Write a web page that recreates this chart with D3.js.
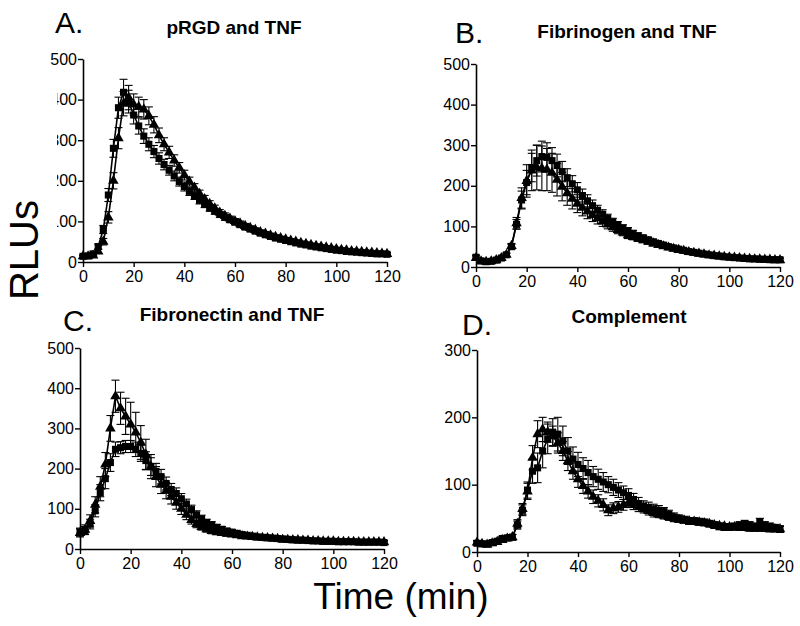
<!DOCTYPE html>
<html><head><meta charset="utf-8">
<script src="https://cdn.jsdelivr.net/npm/d3@7"></script>
<style>
body{margin:0;background:#fff}
text{font-family:Arial,"Liberation Sans",sans-serif}
</style>
</head><body>
<svg id="chart" width="800" height="626"></svg>
<script>
// ---- DATA ----
const times = [0,2,4,6,8,10,12,14,16,18,20,22,24,26,28,30,32,34,36,38,40,42,44,46,48,50,52,54,56,58,60,62,64,66,68,70,72,74,76,78,80,82,84,86,88,90,92,94,96,98,100,102,104,106,108,110,112,114,116,118,120];
const xTickValues = [0,20,40,60,80,100,120];
const yTickValues500 = [0,100,200,300,400,500];
const yTickValues300 = [0,100,200,300];
const panelLetters = ["A.","B.","C.","D."];
const panelTitles = ["pRGD and TNF","Fibrinogen and TNF","Fibronectin and TNF","Complement"];
const panelYMax = [500,500,500,300];
const xAxisTitle = "Time (min)";
const yAxisTitle = "RLUs";

// Panel A: pRGD and TNF
const aSquares = [14,15,20,38,80,165,280,380,418,395, 362,335,310,290,272,255,240,226,212,198, 186,174,163,152,142,133,125,117,110,104, 98,92,86,81,76,71,67,63,59,56, 53,50,47,44,42,39,37,35,33,31, 29,28,26,25,24,23,22,21,20,20, 19];
const aSquaresErr = [3,3,4,6,10,16,22,26,32,28, 22,20,18,16,15,14,13,12,12,11, 11,10,9,9,8,8,7,7,7,6, 6,6,6,5,5,5,5,5,5,4, 4,4,4,4,4,4,4,4,3,3, 3,3,3,3,3,3,3,3,3,3, 3];
const aTriangles = [14,14,16,26,50,110,200,305,390,405, 388,382,376,360,338,312,290,270,250,232, 214,198,183,168,155,143,132,122,114,107, 101,95,89,84,79,74,70,66,62,59, 56,53,50,47,45,42,40,38,36,34, 32,30,29,27,26,25,24,23,22,21, 20];
const aTrianglesErr = [3,3,3,5,8,14,20,26,30,30, 26,24,24,22,20,18,16,15,14,13, 12,11,10,9,9,8,8,7,7,6, 6,6,6,5,5,5,5,5,5,4, 4,4,4,4,4,4,4,4,3,3, 3,3,3,3,3,3,3,3,3,3, 3];

// Panel B: Fibrinogen and TNF
const bSquares = [24,15,13,14,17,22,30,50,105,165, 208,245,262,272,270,262,250,235,220,205, 190,176,163,151,140,130,120,111,103,96, 89,83,77,72,67,62,58,54,50,47, 44,41,38,36,34,32,30,28,27,25, 24,23,22,21,20,20,19,19,18,18, 18];
const bSquaresErr = [5,3,3,3,3,3,4,6,12,22, 30,35,38,38,36,32,28,25,22,20, 18,16,15,14,12,11,10,9,9,8, 8,7,7,6,6,6,5,5,5,5, 4,4,4,4,4,4,4,4,4,4, 4,4,4,4,4,4,4,4,4,4, 4];
const bTriangles = [22,14,13,14,17,22,30,52,108,170, 212,238,245,243,240,232,215,198,182,168, 156,146,137,128,120,112,105,98,91,85, 78,74,70,66,62,58,54,51,48,45, 42,40,37,35,33,31,29,28,26,25, 24,23,22,21,20,19,19,18,18,17, 17];
const bTrianglesErr = [5,3,3,3,3,3,4,6,14,25, 40,50,55,55,52,48,40,35,30,25, 22,20,18,16,14,12,11,10,9,8, 8,7,7,6,6,6,5,5,5,5, 4,4,4,4,4,4,4,4,4,4, 4,4,4,4,4,4,4,4,4,4, 4];

// Panel C: Fibronectin and TNF
const cSquares = [42,46,62,95,140,175,215,248,252,255, 255,248,238,220,205,193,180,163,148,138, 125,112,98,85,75,66,60,54,49,45, 42,39,36,34,32,30,29,28,27,26, 25,24,23,22,22,21,20,20,19,19, 19,18,18,18,18,17,17,17,17,17, 16];
const cSquaresErr = [10,10,12,15,20,25,22,18,15,15, 15,18,20,22,22,20,18,16,15,14, 13,12,11,10,9,8,8,7,7,6, 6,6,5,5,5,5,5,4,4,4, 4,4,4,4,4,4,4,4,4,4, 4,4,4,4,4,4,4,4,4,4, 4];
const cTriangles = [40,48,70,110,155,210,300,380,350,330, 310,290,265,235,205,180,160,145,130,115, 100,85,72,62,55,49,45,42,40,38, 36,34,32,31,30,29,28,27,26,25, 23,23,22,22,21,21,20,20,19,19, 19,18,18,18,18,17,17,17,17,17, 17];
const cTrianglesErr = [10,12,15,20,25,30,32,40,40,45, 55,50,42,38,30,25,22,20,18,16, 14,12,10,9,8,7,7,6,6,6, 5,5,5,5,5,5,4,4,4,4, 4,4,4,4,4,4,4,4,4,4, 4,4,4,4,4,4,4,4,4,4, 4];

// Panel D: Complement
const dSquares = [13,12,12,14,16,20,21,22,40,62, 92,120,125,150,168,178,175,165,150,138, 130,124,118,112,108,104,100,96,92,88, 84,78,72,68,66,64,62,60,56,52, 50,48,46,46,45,44,42,40,38,37, 37,38,40,42,40,38,45,40,38,36, 34];
const dSquaresErr = [3,3,3,3,3,3,3,4,6,8, 12,18,22,25,22,20,25,22,20,18, 18,16,18,15,15,14,12,12,11,10, 10,9,9,8,8,7,7,6,6,6, 5,5,5,5,5,5,5,5,5,5, 5,5,5,5,5,5,5,5,5,5, 5];
const dTriangles = [14,12,11,13,15,18,20,22,42,64, 90,140,175,182,178,172,162,150,135,120, 108,98,90,82,76,70,62,65,67,70, 73,70,67,64,61,58,56,54,52,50, 48,47,46,45,44,43,42,40,39,38, 37,37,36,36,35,35,35,35,34,34, 34];
const dTrianglesErr = [3,3,3,3,3,3,3,4,6,8, 12,18,20,18,15,15,15,14,14,12, 12,11,10,10,9,9,8,8,8,8, 7,7,7,6,6,6,5,5,5,5, 4,4,4,4,4,4,4,4,4,4, 4,4,4,4,4,4,4,4,4,4, 4];

const panelSeries = [
  [{v:aSquares,e:aSquaresErr,sym:"square"},{v:aTriangles,e:aTrianglesErr,sym:"triangle"}],
  [{v:bSquares,e:bSquaresErr,sym:"square"},{v:bTriangles,e:bTrianglesErr,sym:"triangle"}],
  [{v:cSquares,e:cSquaresErr,sym:"square"},{v:cTriangles,e:cTrianglesErr,sym:"triangle"}],
  [{v:dSquares,e:dSquaresErr,sym:"square"},{v:dTriangles,e:dTrianglesErr,sym:"triangle"}]
];

// ---- LAYOUT ----
const layout = [
  {x0:83, x1:387, y0:262, y1:59,  lx:55,  ly:33,  tx:234, ty:34},
  {x0:476,x1:780, y0:267, y1:64,  lx:455, ly:43,  tx:627, ty:38},
  {x0:80, x1:384, y0:549, y1:348, lx:63,  ly:331, tx:232, ty:321},
  {x0:477,x1:780, y0:552, y1:350, lx:462, ly:335, tx:629, ty:323}
];

const svg = d3.select("#chart");
svg.append("rect").attr("width",800).attr("height",626).attr("fill","#fff");

layout.forEach((L, p) => {
  const g = svg.append("g");
  const x = d3.scaleLinear().domain([0,120]).range([L.x0, L.x1]);
  const y = d3.scaleLinear().domain([0,panelYMax[p]]).range([L.y0, L.y1]);

  panelSeries[p].forEach(s => {
    const pts = times.map((t,i) => ({t, v:s.v[i], e:s.e[i]}));
    const eb = g.append("g").attr("stroke","#000").attr("stroke-width",1.1);
    pts.forEach(d => {
      const top = y(d.v + d.e), bot = y(Math.max(0, d.v - d.e)), cx = x(d.t);
      eb.append("line").attr("x1",cx).attr("x2",cx).attr("y1",top).attr("y2",bot);
      eb.append("line").attr("x1",cx-4).attr("x2",cx+4).attr("y1",top).attr("y2",top);
      eb.append("line").attr("x1",cx-4).attr("x2",cx+4).attr("y1",bot).attr("y2",bot);
    });
    g.append("path").datum(pts)
      .attr("d", d3.line().x(d=>x(d.t)).y(d=>y(d.v)))
      .attr("fill","none").attr("stroke","#000").attr("stroke-width",1.6);
    const sym = d3.symbol().type(s.sym==="square"?d3.symbolSquare:d3.symbolTriangle).size(s.sym==="square"?50:48);
    g.selectAll(null).data(pts).enter().append("path")
      .attr("d", sym)
      .attr("transform", d => `translate(${x(d.t)},${y(d.v)})`)
      .attr("fill","#000");
  });

  const xa = g.append("g").attr("transform",`translate(0,${L.y0})`)
    .call(d3.axisBottom(x).tickValues(xTickValues).tickSize(5).tickSizeOuter(0).tickPadding(4));
  const ya = g.append("g").attr("transform",`translate(${L.x0},0)`)
    .call(d3.axisLeft(y).tickValues(panelYMax[p]===300?yTickValues300:yTickValues500).tickSize(5).tickSizeOuter(0).tickPadding(1));
  [xa,ya].forEach(a => {
    a.select(".domain").attr("stroke","#000").attr("stroke-width",1.6);
    a.selectAll(".tick line").attr("stroke","#000").attr("stroke-width",1.4);
    a.selectAll(".tick text").attr("fill","#000").style("font-size","16px")
      .style("font-family","Arial, 'Liberation Sans', sans-serif");
  });

  g.append("text").attr("x",L.lx).attr("y",L.ly).text(panelLetters[p])
    .style("font-size","30px").attr("fill","#000");
  g.append("text").attr("x",L.tx).attr("y",L.ty).attr("text-anchor","middle")
    .text(panelTitles[p]).style("font-size","19px").style("font-weight","bold").attr("fill","#000");
});

// cropped-looking tick labels at left of panel A (as in original)
svg.append("rect").attr("x",40).attr("y",88).attr("width",17).attr("height",150).attr("fill","#fff");

svg.append("text").attr("transform","translate(38,250) rotate(-90)")
  .attr("text-anchor","middle").text(yAxisTitle).style("font-size","40px").attr("fill","#000");
svg.append("text").attr("x",401).attr("y",609).attr("text-anchor","middle")
  .text(xAxisTitle).style("font-size","37px").attr("fill","#000");
</script>
</body></html>
